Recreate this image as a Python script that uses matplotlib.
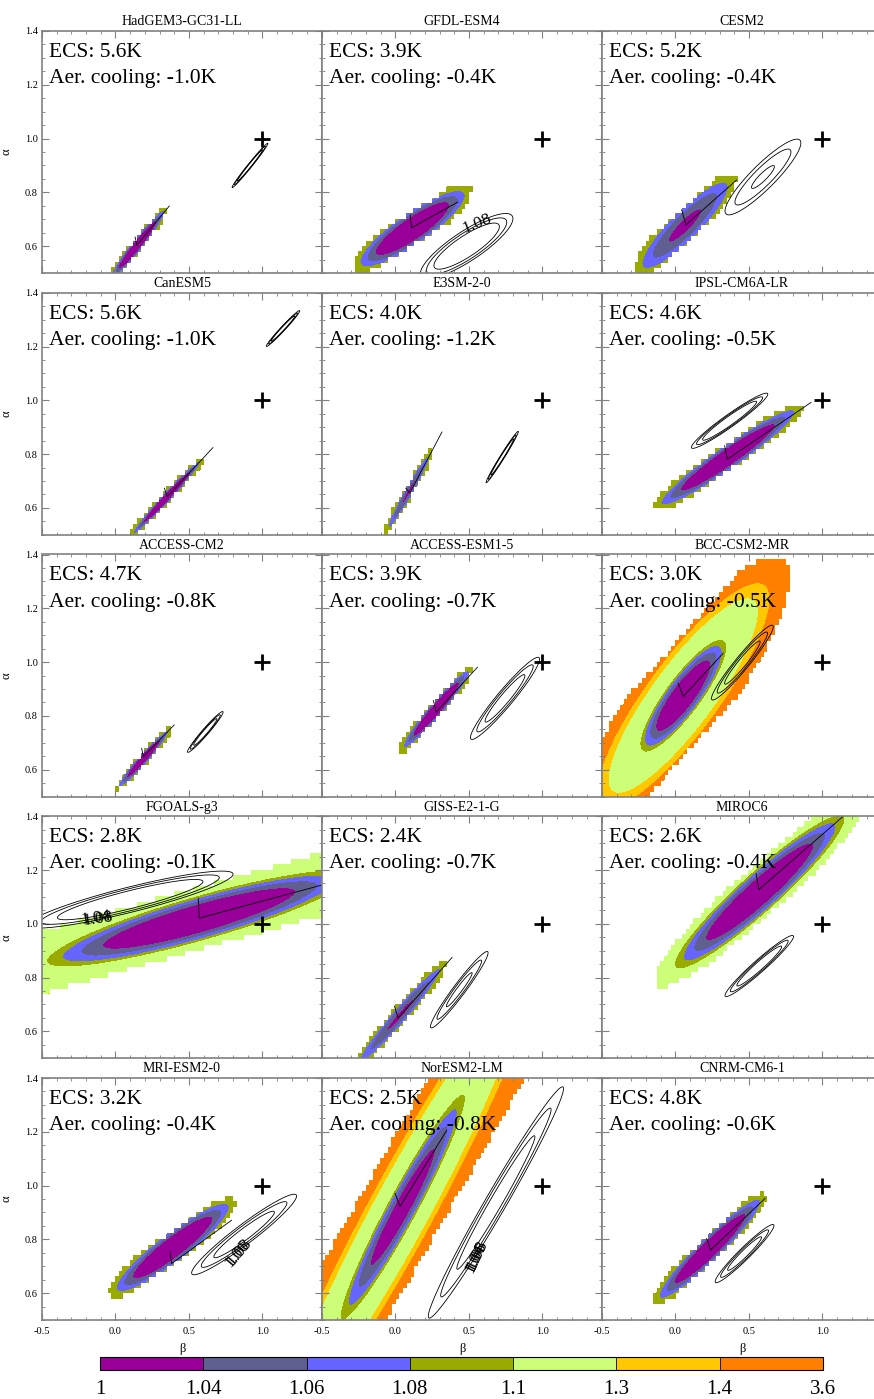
import numpy as np
import matplotlib
matplotlib.use('Agg')
import matplotlib.pyplot as plt
from matplotlib.ticker import MultipleLocator

plt.rcParams['font.family'] = ['Liberation Serif', 'DejaVu Serif']
plt.rcParams['axes.unicode_minus'] = False

# ---------------- data ----------------
models = ['HadGEM3-GC31-LL', 'GFDL-ESM4', 'CESM2',
          'CanESM5', 'E3SM-2-0', 'IPSL-CM6A-LR',
          'ACCESS-CM2', 'ACCESS-ESM1-5', 'BCC-CSM2-MR',
          'FGOALS-g3', 'GISS-E2-1-G', 'MIROC6',
          'MRI-ESM2-0', 'NorESM2-LM', 'CNRM-CM6-1']
ecs = [5.6, 3.9, 5.2, 5.6, 4.0, 4.6, 4.7, 3.9, 3.0, 2.8, 2.4, 2.6, 3.2, 2.5, 4.8]
aer_cooling = [-1.0, -0.4, -0.4, -1.0, -1.2, -0.5, -0.8, -0.7, -0.5, -0.1,
               -0.7, -0.4, -0.4, -0.8, -0.6]

levels = [1, 1.04, 1.06, 1.08, 1.1, 1.3, 1.4, 3.6]
level_labels = ['1', '1.04', '1.06', '1.08', '1.1', '1.3', '1.4', '3.6']
level_colors = ['#990099', '#606090', '#6666ff', '#99aa00',
                '#ccff77', '#ffc800', '#ff8000']
line_levels = [1.04, 1.06, 1.08]

# filled cost surface (ellipse estimates)
fill_beta = [0.15, 0.116, 0.065, 0.35, 0.09, 0.357, 0.19, 0.278, 0.053, 0.57,
             0.03, 0.573, 0.39, 0.05, 0.235]
fill_alpha = [0.605, 0.665, 0.677, 0.64, 0.66, 0.788, 0.64, 0.825, 0.875, 1.02,
              0.66, 1.119, 0.77, 0.92, 0.765]
fill_slope = [0.66, 0.343, 0.485, 0.58, 0.93, 0.37, 0.59, 0.61, 0.61, 0.152,
              0.616, 0.465, 0.39, 0.95, 0.505]
fill_half_beta = [0.21, 0.40, 0.35, 0.26, 0.17, 0.51, 0.19, 0.25, 0.295, 1.04,
                  0.33, 0.58, 0.43, 0.425, 0.385]
fill_half_alpha = [0.04, 0.079, 0.089, 0.03, 0.04, 0.06, 0.033, 0.047, 0.108,
                   0.087, 0.05, 0.098, 0.075, 0.118, 0.068]
fill_min = [1.0, 1.0, 1.033, 1.0, 1.035, 1.0, 1.005, 1.0, 1.0, 1.0,
            1.035, 1.0, 1.0, 1.018, 1.0]
fill_max = [1.1, 1.1, 1.1, 1.1, 1.1, 1.1, 1.1, 1.1, 1.6, 1.35,
            1.1, 1.15, 1.1, 3.6, 1.1]
band_half_alpha = [0.027, 0.062, 0.066, 0.024, 0.029, 0.048, 0.025, 0.033, 0.225,
                   0.115, 0.042, 0.11, 0.06, 0.31, 0.053]
band_half_beta = [0.19, 0.41, 0.36, 0.27, 0.16, 0.52, 0.19, 0.26, 0.72, 2.0,
                  0.31, 0.72, 0.44, 2.0, 0.38]

# thin black path
path_beta = [[0.133, 0.146, 0.366], [0.099, 0.11, 0.425], [0.042, 0.071, 0.416],
             [0.333, 0.352, 0.663], [0.07, 0.097, 0.316], [0.334, 0.353, 0.922],
             [0.178, 0.19, 0.399], [0.258, 0.277, 0.558], [0.019, 0.053, 0.325],
             [0.563, 0.57, 1.403], [-0.007, 0.018, 0.385], [0.548, 0.567, 1.135],
             [0.371, 0.382, 0.79], [-0.003, 0.031, 0.349], [0.212, 0.239, 0.609]]
path_alpha = [[0.634, 0.604, 0.749], [0.716, 0.668, 0.764], [0.735, 0.679, 0.846],
              [0.673, 0.642, 0.824], [0.673, 0.655, 0.882], [0.831, 0.781, 0.992],
              [0.679, 0.648, 0.766], [0.857, 0.814, 0.981], [0.921, 0.872, 1.033],
              [1.095, 1.021, 1.144], [0.694, 0.649, 0.875], [1.187, 1.127, 1.397],
              [0.753, 0.71, 0.871], [0.971, 0.922, 1.206], [0.803, 0.76, 0.952]]

# black contour surface
cont_beta = [0.915, 0.484, 0.595, 1.14, 0.726, 0.368, 0.611, 0.745, 0.455, 0.10,
             0.434, 0.57, 0.875, 0.683, 0.47]
cont_alpha = [0.90, 0.60, 0.857, 1.267, 0.789, 0.924, 0.74, 0.865, 0.998, 1.09,
              0.755, 0.843, 0.818, 0.937, 0.747]
cont_slope = [0.67, 0.325, 0.49, 0.577, 0.86, 0.38, 0.61, 0.62, 0.635, 0.135,
              0.70, 0.47, 0.40, 0.92, 0.52]
cont_half_beta = [0.122, 0.315, 0.258, 0.114, 0.11, 0.26, 0.121, 0.235, 0.21, 0.70,
                  0.196, 0.233, 0.357, 0.46, 0.20]
cont_half_alpha = [0.012, 0.065, 0.062, 0.012, 0.015, 0.028, 0.018, 0.046, 0.04, 0.048,
                   0.037, 0.03, 0.045, 0.077, 0.03]
cont_min = [1.0, 1.0, 1.036, 1.0, 1.0, 1.0, 1.01, 1.02, 1.02, 1.0,
            1.03, 1.01, 1.02, 1.02, 1.02]

# contour labels
clab_panel = [1, 9, 9, 12, 12, 13, 13, 13]
clab_text = ['1.08', '1.04', '1.08', '1.06', '1.08', '1.04', '1.06', '1.08']
clab_beta = [0.555, -0.135, -0.12, 0.83, 0.84, 0.545, 0.552, 0.558]
clab_alpha = [0.685, 1.022, 1.018, 0.745, 0.752, 0.73, 0.736, 0.742]
clab_rot = [22, 8, 8, 50, 50, 65, 65, 65]

truth_beta, truth_alpha = 1.0, 1.0

xticks = [-0.5, 0.0, 0.5, 1.0]
xtick_labels = ['-0.5', '0.0', '0.5', '1.0']
yticks = [0.6, 0.8, 1.0, 1.2, 1.4]
ytick_labels = ['0.6', '0.8', '1.0', '1.2', '1.4']

# ---------------- figure ----------------
W, H = 874, 1399
fig = plt.figure(figsize=(W / 100, H / 100), dpi=100)

xmin, xmax, ymin, ymax = -0.5, 1.405, 0.5, 1.4
bx = np.linspace(xmin, xmax, 763)
ay = np.linspace(ymin, ymax, 721)
B, A = np.meshgrid(bx, ay)
cell_b, cell_a = 0.025, 0.02
Bc = xmin + (np.floor((B - xmin) / cell_b) + 0.5) * cell_b
Ac = ymin + (np.floor((A - ymin) / cell_a) + 0.5) * cell_a


def surface(X, Y, cx, cy, s, hx, hv, fmin, ref):
    t = X - cx
    d = (Y - cy) - s * t
    return fmin + (ref - fmin) * ((t / hx) ** 2 + (d / hv) ** 2)


spine_col = '#808080'
cf = None
for i, name in enumerate(models):
    r, c = divmod(i, 3)
    left = (42 + 280 * c) / W
    bottom = 1 - (31 + 261.75 * r + 242) / H
    ax = fig.add_axes([left, bottom, 280 / W, 242 / H])

    args = (fill_beta[i], fill_alpha[i], fill_slope[i],
            fill_half_beta[i], fill_half_alpha[i], fill_min[i], 1.1)
    F = np.minimum(surface(B, A, *args), fill_max[i] - 1e-4)
    Fc = surface(Bc, Ac, *args)
    tc = Bc - fill_beta[i]
    dc = (Ac - fill_alpha[i]) - fill_slope[i] * tc
    mask = ((np.abs(dc) > band_half_alpha[i]) | (np.abs(tc) > band_half_beta[i])
            | (Fc > fill_max[i]))
    Fm = np.ma.masked_where(mask, F)
    cf = ax.contourf(B, A, Fm, levels=levels, colors=level_colors, zorder=1)

    G = surface(B, A, cont_beta[i], cont_alpha[i], cont_slope[i],
                cont_half_beta[i], cont_half_alpha[i], cont_min[i], 1.08)
    ax.contour(B, A, G, levels=line_levels, colors='k', linewidths=0.6, zorder=2)

    ax.plot(path_beta[i], path_alpha[i], color='k', lw=0.6, zorder=3)
    ax.plot([truth_beta], [truth_alpha], marker='+', color='k', ms=11, mew=2,
            zorder=4)

    for j, p in enumerate(clab_panel):
        if p == i:
            ax.text(clab_beta[j], clab_alpha[j], clab_text[j], rotation=clab_rot[j],
                    ha='center', va='center', fontsize=12.5, zorder=5)

    ax.text(0.025, 0.893, f'ECS: {ecs[i]:.1f}K', transform=ax.transAxes,
            fontsize=15.5, zorder=6)
    ax.text(0.025, 0.785, f'Aer. cooling: {aer_cooling[i]:.1f}K',
            transform=ax.transAxes, fontsize=15.5, zorder=6)

    ax.set_title(name, fontsize=10, pad=4)
    ax.set_xlim(xmin, xmax)
    ax.set_ylim(ymin, ymax)
    ax.set_xticks(xticks)
    ax.set_yticks(yticks)
    ax.xaxis.set_minor_locator(MultipleLocator(0.1))
    ax.yaxis.set_minor_locator(MultipleLocator(0.05))
    ax.tick_params(which='both', direction='in', top=True, right=True,
                   color=spine_col, labelsize=7.5)
    ax.tick_params(which='major', length=5, width=0.8)
    ax.tick_params(which='minor', length=2.5, width=0.6)
    ax.tick_params(axis='x', pad=5)
    ax.tick_params(axis='y', pad=3)
    for sp in ax.spines.values():
        sp.set_color(spine_col)
        sp.set_linewidth(1.2)
    if c == 0:
        ax.set_yticklabels(ytick_labels)
        ax.set_ylabel('α', fontsize=9)
        ax.yaxis.set_label_coords(-0.104, 0.5)
    else:
        ax.set_yticklabels([])
    if r == 4:
        ax.set_xticklabels(xtick_labels)
        ax.set_xlabel('β', fontsize=9)
        ax.xaxis.set_label_coords(0.5, -0.095)
    else:
        ax.set_xticklabels([])

cax = fig.add_axes([100 / W, 1 - 1370 / H, 723 / W, 13 / H])
cb = fig.colorbar(cf, cax=cax, orientation='horizontal', ticks=levels,
                  drawedges=True)
cb.ax.set_xticklabels(level_labels)
cb.ax.tick_params(length=0, labelsize=15, pad=7)
cb.outline.set_linewidth(0.8)
cb.dividers.set_linewidth(0.6)

fig.savefig('out.png', dpi=100)
